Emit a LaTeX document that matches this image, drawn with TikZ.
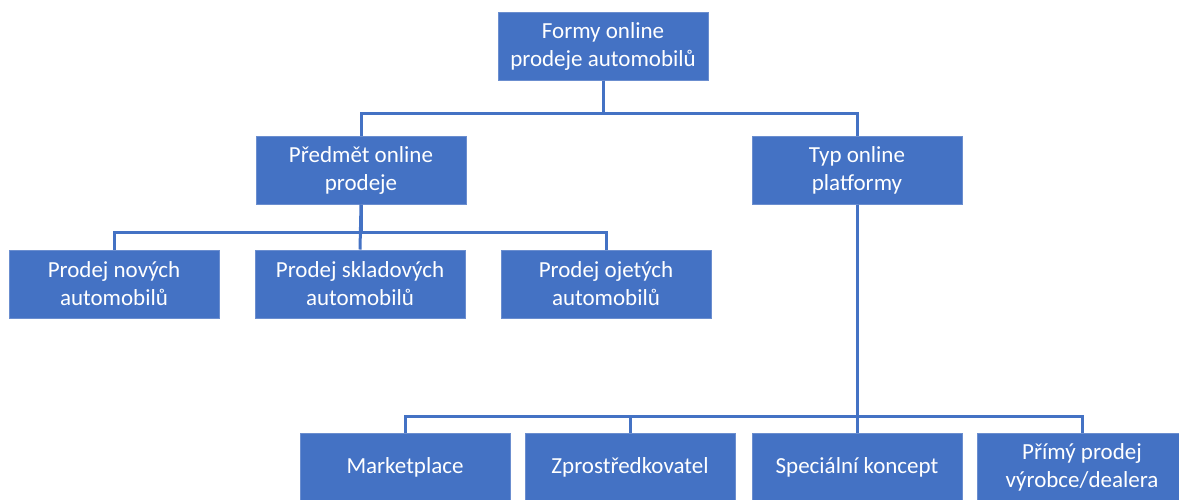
\documentclass[tikz,border=0pt]{standalone}
\usepackage{fontspec}
\setmainfont{Carlito}
\definecolor{boxblue}{HTML}{4472C4}
\definecolor{edgeblue}{HTML}{6B8ECF}
\tikzset{
  orgbox/.style={rectangle, fill=boxblue, draw=edgeblue, line width=1pt,
    minimum width=210pt, minimum height=68pt, text=white, align=center,
    font=\fontsize{23}{28}\selectfont, inner sep=0pt},
  link/.style={draw=boxblue, line width=3pt}
}
\begin{document}
\begin{tikzpicture}[x=1pt,y=-1pt]
\useasboundingbox (0,0) rectangle (1179,499);
% root and first level
\node[orgbox] (formy) at (603,46) {Formy online\\prodeje automobilů};
\node[orgbox] (predmet) at (361,170) {Předmět online\\prodeje};
\node[orgbox] (typ) at (857,170) {Typ online\\platformy};
% subject of sale
\node[orgbox] (nove) at (114,284) {Prodej nových\\automobilů};
\node[orgbox] (skladove) at (360,284) {Prodej skladových\\automobilů};
\node[orgbox] (ojete) at (606,284) {Prodej ojetých\\automobilů};
% platform types
\foreach \name/\x/\txt in {market/405/Marketplace, zpro/630/Zprostředkovatel,
    special/857/Speciální koncept, primy/1082/{Přímý prodej\\výrobce/dealera}}{
  \node[orgbox] (\name) at (\x,467) {\txt};
}
% connectors
\draw[link] (formy.south) -- ++(0,33) -| (predmet.north);
\draw[link] (formy.south) -- ++(0,33) -| (typ.north);
\draw[link] (predmet.south) -- ++(0,28) -| (nove.north);
\draw[link] (predmet.south) -- (skladove.north);
\draw[link] (predmet.south) -- ++(0,28) -| (ojete.north);
\foreach \name in {market,zpro,special,primy}{
  \draw[link] (typ.south) -- ++(0,212) -| (\name.north);
}
\end{tikzpicture}
\end{document}
